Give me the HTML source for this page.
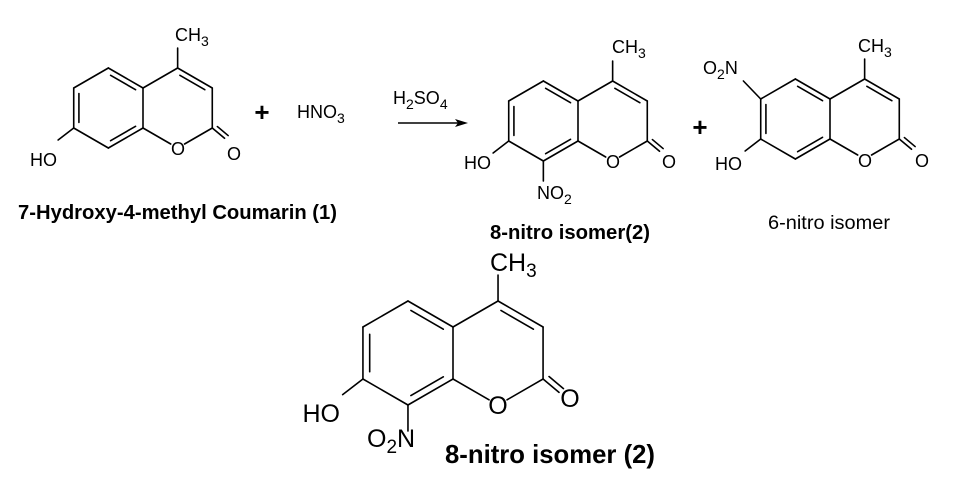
<!DOCTYPE html>
<html><head><meta charset="utf-8"><style>
html,body{margin:0;padding:0;background:#fff;width:966px;height:487px;overflow:hidden}
svg{display:block;font-family:"Liberation Sans",Arial,sans-serif}
</style></head><body>
<svg id="s" width="966" height="487" viewBox="0 0 966 487" xmlns="http://www.w3.org/2000/svg">
<g id="b" stroke="#000" stroke-width="1.6" fill="none" stroke-linecap="round"></g>
<g font-size="18" fill="#000">
<text x="175" y="41">CH<tspan dy="5" font-size="14">3</tspan></text>
<text x="57" y="166" text-anchor="end">HO</text>
<text x="178" y="155" text-anchor="middle">O</text>
<text x="234" y="160" text-anchor="middle">O</text>
<text x="297" y="118">HNO<tspan dy="5" font-size="14">3</tspan></text>
<text x="393" y="104">H<tspan dy="5" font-size="14">2</tspan><tspan dy="-5">SO</tspan><tspan dy="5" font-size="14">4</tspan></text>
<text x="612" y="53">CH<tspan dy="5" font-size="14">3</tspan></text>
<text x="491" y="169" text-anchor="end">HO</text>
<text x="613" y="168" text-anchor="middle">O</text>
<text x="669" y="168" text-anchor="middle">O</text>
<text x="537" y="199">NO<tspan dy="5" font-size="14">2</tspan></text>
<text x="858" y="52">CH<tspan dy="5" font-size="14">3</tspan></text>
<text x="703" y="74">O<tspan dy="5" font-size="14">2</tspan><tspan dy="-5">N</tspan></text>
<text x="742" y="170" text-anchor="end">HO</text>
<text x="865" y="167" text-anchor="middle">O</text>
<text x="922" y="167" text-anchor="middle">O</text>
</g>
<g font-size="25" fill="#000">
<text x="490" y="271">CH<tspan dy="6" font-size="19">3</tspan></text>
<text x="340" y="422" text-anchor="end">HO</text>
<text x="367" y="447">O<tspan dy="6" font-size="19">2</tspan><tspan dy="-6">N</tspan></text>
<text x="498" y="414" text-anchor="middle">O</text>
<text x="570" y="407" text-anchor="middle">O</text>
</g>
<g font-weight="bold" fill="#000">
<text x="262" y="121" font-size="26" text-anchor="middle">+</text>
<text x="700" y="136" font-size="26" text-anchor="middle">+</text>
<text x="18" y="219" font-size="20" textLength="319" lengthAdjust="spacingAndGlyphs">7-Hydroxy-4-methyl Coumarin (1)</text>
<text x="490" y="239" font-size="20" textLength="160" lengthAdjust="spacingAndGlyphs">8-nitro isomer(2)</text>
<text x="445" y="463" font-size="26" textLength="210" lengthAdjust="spacingAndGlyphs">8-nitro isomer (2)</text>
</g>
<text x="768" y="229" font-size="19" fill="#000" textLength="122" lengthAdjust="spacingAndGlyphs">6-nitro isomer</text>
<line x1="398" y1="123" x2="458" y2="123" stroke="#000" stroke-width="1.4"/>
<polygon points="468,123 455,119 458,123 455,127" fill="#000"/>
</svg>
<script>
var g=document.getElementById('b');
function L(a,b,c,d){var l=document.createElementNS('http://www.w3.org/2000/svg','line');l.setAttribute('x1',a);l.setAttribute('y1',b);l.setAttribute('x2',c);l.setAttribute('y2',d);g.appendChild(l);}
function mol(x,y,s,o){
 var c=s*Math.cos(Math.PI/6);
 var P={c4a:[x,y],c5:[x-c,y-s/2],c6:[x-2*c,y],c7:[x-2*c,y+s],c8:[x-c,y+1.5*s],c8a:[x,y+s],o1:[x+c,y+1.5*s],c2:[x+2*c,y+s],c3:[x+2*c,y],c4:[x+c,y-s/2]};
 var ca=[x-c,y+s/2], cb=[x+c,y+s/2];
 function bond(p,q,cen,dbl,sh1,sh2){
  var a=P[p],b=P[q];var dx=b[0]-a[0],dy=b[1]-a[1],len=Math.hypot(dx,dy),ux=dx/len,uy=dy/len;
  var s1=sh1||0,s2=sh2||0;
  L(a[0]+ux*s1,a[1]+uy*s1,b[0]-ux*s2,b[1]-uy*s2);
  if(dbl){var nx=-uy,ny=ux;var mx=(a[0]+b[0])/2,my=(a[1]+b[1])/2;if((cen[0]-mx)*nx+(cen[1]-my)*ny<0){nx=-nx;ny=-ny;}
   var off=s*0.13,t=len*0.14;L(a[0]+ux*t+nx*off,a[1]+uy*t+ny*off,b[0]-ux*t+nx*off,b[1]-uy*t+ny*off);}
 }
 var og=s*0.2;
 bond('c4a','c5',ca,1);bond('c5','c6',ca,0);bond('c6','c7',ca,1);bond('c7','c8',ca,0);bond('c8','c8a',ca,1);bond('c8a','c4a',ca,0);
 bond('c4a','c4',cb,0);bond('c4','c3',cb,1);bond('c3','c2',cb,0);bond('c2','o1',cb,0,0,og);bond('o1','c8a',cb,0,og,0);
 var a=P.c2,ux=0.766,uy=0.643,l=s*0.4,nx=uy,ny=-ux,off=s*0.11;
 L(a[0],a[1],a[0]+ux*l,a[1]+uy*l);L(a[0]+nx*off+ux*3,a[1]+ny*off+uy*3,a[0]+nx*off+ux*(l+1),a[1]+ny*off+uy*(l+1));
 L(P.c4[0],P.c4[1],P.c4[0],P.c4[1]-s*0.5);
 L(P.c7[0],P.c7[1],P.c7[0]-c*0.45,P.c7[1]+s*0.3);
 if(o==1)L(P.c8[0],P.c8[1],P.c8[0],P.c8[1]+s*0.5);
 if(o==2)L(P.c6[0],P.c6[1],P.c6[0]-c*0.5,P.c6[1]-s*0.45);
}
mol(143,88,40,0);
mol(578,101,40,1);
mol(830,99,40,2);
mol(453,327,52,1);
</script>
</body></html>
